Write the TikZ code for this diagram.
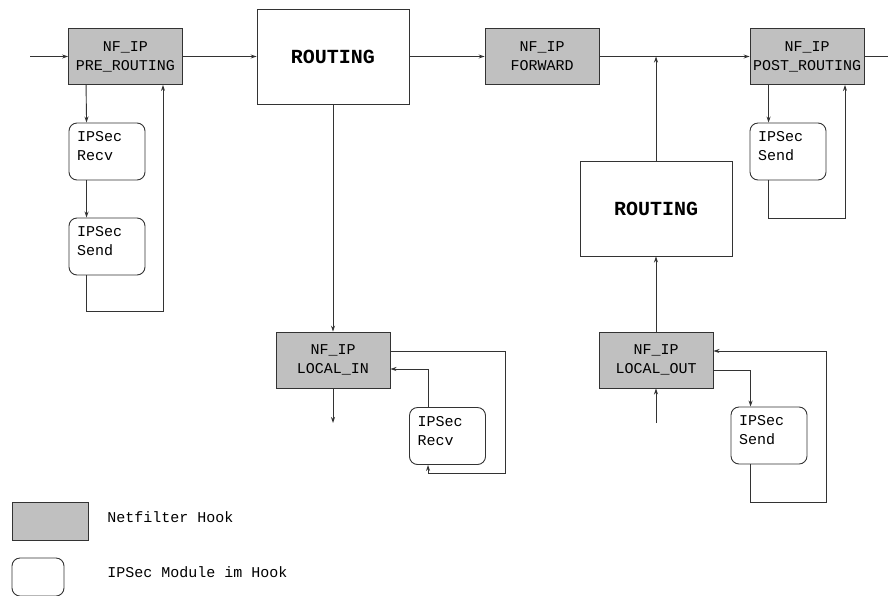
\documentclass[tikz,border=0pt]{standalone}
\usepackage{fontspec}
\setmonofont{Liberation Mono}
\usetikzlibrary{arrows.meta}
\definecolor{hookgray}{RGB}{192,192,192}
\tikzset{
  every node/.style={font=\ttfamily\fontsize{15}{19}\selectfont},
  hook/.style={draw, fill=hookgray, minimum width=114pt, minimum height=56pt, align=center, inner sep=0pt},
  routing/.style={draw, minimum width=152pt, minimum height=95pt, inner sep=0pt, font=\ttfamily\bfseries\fontsize{20}{24}\selectfont},
  modul/.style={draw, rounded corners=8pt, minimum width=76pt, minimum height=57pt, text width=60pt, text depth=30pt, align=left, inner sep=0pt},
}
\begin{document}
\begin{tikzpicture}[x=1pt, y=-1pt, line width=0.9pt, draw=black!80, >={Stealth[length=6pt,width=4pt]}]
                \useasboundingbox (0,0) rectangle (888,595);

                \node[hook] (pre) at (125.5,56.5) {NF\_IP\\PRE\_ROUTING};
                \node[routing] (rt) at (333,56.5) {ROUTING};
                \node[hook] (fwd) at (542,56.5) {NF\_IP\\FORWARD};
                \node[hook] (post) at (807,56.5) {NF\_IP\\POST\_ROUTING};
                \node[routing] (rtb) at (656,208.5) {ROUTING};
                \node[hook] (lin) at (333,360) {NF\_IP\\LOCAL\_IN};
                \node[hook] (lout) at (656,360) {NF\_IP\\LOCAL\_OUT};

                \node[modul] (recva) at (107,151.5) {IPSec\\Recv};
                \node[modul] (senda) at (107,246.5) {IPSec\\Send};
                \node[modul] (sendb) at (788,151.5) {IPSec\\Send};
                \node[modul] (recvb) at (447.5,436) {IPSec\\Recv};
                \node[modul] (sendc) at (769,435.5) {IPSec\\Send};

                \coordinate (in) at (30,56.5);
                \coordinate (out) at (888,56.5);
                \coordinate (j) at (656,56.5);
                \coordinate (linout) at (333,423);
                \coordinate (loutin) at (656,423);
                \coordinate (pl) at (163,311);
                \coordinate (ql) at (845,218);
                \coordinate (il) at (505,473);
                \coordinate (ol) at (826,502);

                % main path
                \draw[->] (in) -- (pre);
                \draw[->] (pre) -- (rt);
                \draw[->] (rt) -- (fwd);
                \draw[->] (fwd) -- (post);
                \draw (post) -- (out);
                \draw[->] (rtb) -- (j);
                \draw[->] (lout) -- (rtb);
                \draw[->] (loutin) -- (lout);
                \draw[->] (rt) -- (lin);
                \draw[->] (lin) -- (linout);

                % pre routing hook
                \draw[->] ([xshift=18pt]pre.south west) -- ([xshift=18pt]recva.north west);
                \draw[->] ([xshift=18pt]recva.south west) -- ([xshift=18pt]senda.north west);
                \draw[->] ([xshift=18pt]senda.south west) |- (pl) -- (pl |- pre.south);

                % post routing hook
                \draw[->] ([xshift=19pt]post.south west) -- ([xshift=19pt]sendb.north west);
                \draw[->] ([xshift=19pt]sendb.south west) |- (ql) -- (ql |- post.south);

                % local in hook
                \draw[->] ([yshift=9pt]lin.east) -| (il) -| ([xshift=19pt]recvb.south west);
                \draw[->] ([xshift=19pt]recvb.north west) |- ([yshift=-9pt]lin.east);

                % local out hook
                \draw[->] ([yshift=-10pt]lout.east) -| ([xshift=20pt]sendc.north west);
                \draw[->] ([xshift=20pt]sendc.south west) |- (ol) |- ([yshift=9pt]lout.east);

                % legend
                \node[hook, minimum width=76pt, minimum height=38pt] (lghook) at (50,521) {};
                \node[draw, rounded corners=8pt, minimum width=52pt, minimum height=38pt] (lgmod) at (38,577) {};
                \node[anchor=west, inner sep=0pt] (lghooktxt) at (107,517) {Netfilter Hook};
                \node[anchor=west, inner sep=0pt] (lgmodtxt) at (107,572) {IPSec Module im Hook};
            \end{tikzpicture}
\end{document}
